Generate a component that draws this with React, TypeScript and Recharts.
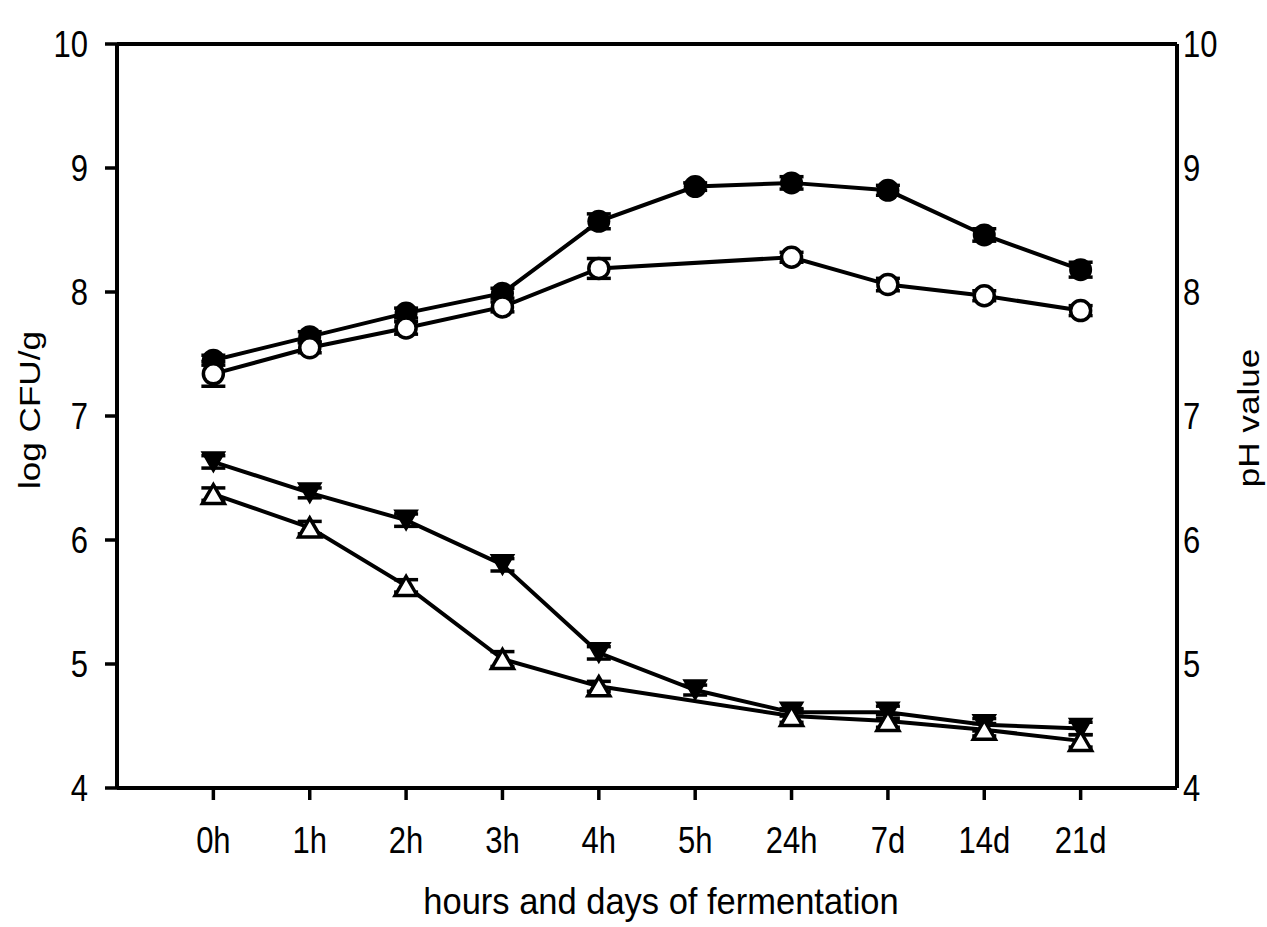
import { ErrorBar, Line, LineChart, ReferenceLine, XAxis, YAxis } from 'recharts'

const CATEGORIES = ['0h', '1h', '2h', '3h', '4h', '5h', '24h', '7d', '14d', '21d']
const X_TICKS = [0, 1, 2, 3, 4, 5, 6, 7, 8, 9]
const Y_TICKS = [4, 5, 6, 7, 8, 9, 10]

// log CFU/g (circles), no open-circle sample at 5h
const CFU_FILLED = [7.45, 7.64, 7.83, 7.99, 8.57, 8.85, 8.88, 8.82, 8.46, 8.18]
const CFU_FILLED_ERR = [0.04, 0.04, 0.04, 0.04, 0.06, 0.03, 0.05, 0.04, 0.05, 0.06]
const CFU_OPEN = [7.34, 7.55, 7.71, 7.88, 8.19, null, 8.28, 8.06, 7.97, 7.85]
const CFU_OPEN_ERR = [0.1, 0.04, 0.05, 0.04, 0.08, null, 0.04, 0.05, 0.04, 0.04]

// pH (triangles), no open-triangle sample at 5h
const PH_FILLED = [6.63, 6.38, 6.16, 5.8, 5.09, 4.79, 4.61, 4.61, 4.51, 4.48]
const PH_FILLED_ERR = [0.05, 0.04, 0.05, 0.05, 0.05, 0.04, 0.03, 0.05, 0.05, 0.05]
const PH_OPEN = [6.37, 6.1, 5.63, 5.04, 4.82, null, 4.58, 4.54, 4.47, 4.38]
const PH_OPEN_ERR = [0.05, 0.05, 0.05, 0.06, 0.04, null, 0.05, 0.05, 0.05, 0.05]

const FONT = '"Liberation Sans", Arial, Helvetica, sans-serif'
const INK = '#000'
// the source figure is stretched a little vertically
const STRETCH = 1.17

function points(values: Array<number | null>, errors: Array<number | null>) {
  return values.flatMap((v, i) => (v == null ? [] : [{ x: i, y: v, err: errors[i] ?? 0 }]))
}

function FilledCircle({ cx, cy, index }: any) {
  if (cx == null || cy == null) return <g key={index} />
  return <circle key={index} cx={cx} cy={cy} r={11.5} fill={INK} />
}

function OpenCircle({ cx, cy, index }: any) {
  if (cx == null || cy == null) return <g key={index} />
  return <circle key={index} cx={cx} cy={cy} r={10} fill="#fff" stroke={INK} strokeWidth={3.5} />
}

function DownTriangle({ cx, cy, index }: any) {
  if (cx == null || cy == null) return <g key={index} />
  const w = 11.5
  const h = 10
  return (
    <polygon
      key={index}
      points={`${cx - w},${cy - h} ${cx + w},${cy - h} ${cx},${cy + h}`}
      fill={INK}
      stroke={INK}
      strokeWidth={1.5}
    />
  )
}

function UpTriangle({ cx, cy, index }: any) {
  if (cx == null || cy == null) return <g key={index} />
  const w = 11
  const h = 9.5
  return (
    <polygon
      key={index}
      points={`${cx - w},${cy + h} ${cx + w},${cy + h} ${cx},${cy - h}`}
      fill="#fff"
      stroke={INK}
      strokeWidth={3.5}
    />
  )
}

function XTick({ x, y, payload }: any) {
  return (
    <g transform={`translate(${x},${y}) scale(1,${STRETCH})`}>
      <text x={0} y={0} dy="0.71em" textAnchor="middle" fontSize={31} fontFamily={FONT} fill={INK}>
        {CATEGORIES[payload.value] ?? ''}
      </text>
    </g>
  )
}

function YTick({ x, y, payload, anchor }: any) {
  return (
    <g transform={`translate(${x},${y}) scale(1,${STRETCH})`}>
      <text x={0} y={0} dy="0.355em" textAnchor={anchor} fontSize={31} fontFamily={FONT} fill={INK}>
        {payload.value}
      </text>
    </g>
  )
}

function AxisTitle({ viewBox, value, side }: any) {
  if (!viewBox) return null
  const { x, y, width, height } = viewBox
  if (side === 'bottom') {
    return (
      <g transform={`translate(${x + width / 2 + 14},${y + height}) scale(1,1.08)`}>
        <text x={0} y={0} dy="0.71em" textAnchor="middle" fontSize={34.5} fontFamily={FONT} fill={INK}>
          {value}
        </text>
      </g>
    )
  }
  const cx = side === 'left' ? x + 2 : x + 71
  const cy = y + height / 2 + (side === 'left' ? -6 : 2)
  return (
    <g transform={`translate(${cx},${cy}) rotate(-90) scale(${STRETCH},1)`}>
      <text x={0} y={0} textAnchor="middle" dominantBaseline="central" fontSize={30} fontFamily={FONT} fill={INK}>
        {value}
      </text>
    </g>
  )
}

const axisLine = { stroke: INK, strokeWidth: 4 }
const tickLine = { stroke: INK, strokeWidth: 3.5 }

export default function App() {
  const series = [
    { key: 'cfuFilled', axis: 'left', data: points(CFU_FILLED, CFU_FILLED_ERR), dot: FilledCircle },
    { key: 'cfuOpen', axis: 'left', data: points(CFU_OPEN, CFU_OPEN_ERR), dot: OpenCircle },
    { key: 'phFilled', axis: 'right', data: points(PH_FILLED, PH_FILLED_ERR), dot: DownTriangle },
    { key: 'phOpen', axis: 'right', data: points(PH_OPEN, PH_OPEN_ERR), dot: UpTriangle },
  ]

  return (
    <div style={{ position: 'absolute', left: 0, top: 0, width: 1267, height: 927, background: '#fff' }}>
      <LineChart width={1267} height={927} margin={{ top: 44, right: 30, bottom: 39, left: 27 }}>
        <XAxis
          type="number"
          dataKey="x"
          domain={[-1, 10]}
          ticks={X_TICKS}
          tick={<XTick />}
          axisLine={axisLine}
          tickLine={tickLine}
          tickSize={12}
          tickMargin={27}
          height={100}
          interval={0}
          label={<AxisTitle side="bottom" value="hours and days of fermentation" />}
        />
        <YAxis
          yAxisId="left"
          domain={[4, 10]}
          ticks={Y_TICKS}
          tick={<YTick anchor="end" />}
          axisLine={axisLine}
          tickLine={tickLine}
          tickSize={12}
          tickMargin={17}
          width={90}
          interval={0}
          label={<AxisTitle side="left" value="log CFU/g" />}
        />
        <YAxis
          yAxisId="right"
          orientation="right"
          domain={[4, 10]}
          ticks={Y_TICKS}
          tick={<YTick anchor="start" />}
          axisLine={axisLine}
          tickLine={false}
          tickSize={0}
          tickMargin={6}
          width={60}
          interval={0}
          label={<AxisTitle side="right" value="pH value" />}
        />
        <ReferenceLine yAxisId="left" y={10} stroke={INK} strokeWidth={4} />
        {series.map((s) => (
          <Line
            key={s.key}
            yAxisId={s.axis}
            data={s.data}
            dataKey="y"
            type="linear"
            stroke={INK}
            strokeWidth={4}
            dot={s.dot}
            activeDot={false}
            isAnimationActive={false}
          >
            <ErrorBar dataKey="err" direction="y" width={12} stroke={INK} strokeWidth={3.5} isAnimationActive={false} />
          </Line>
        ))}
      </LineChart>
    </div>
  )
}
